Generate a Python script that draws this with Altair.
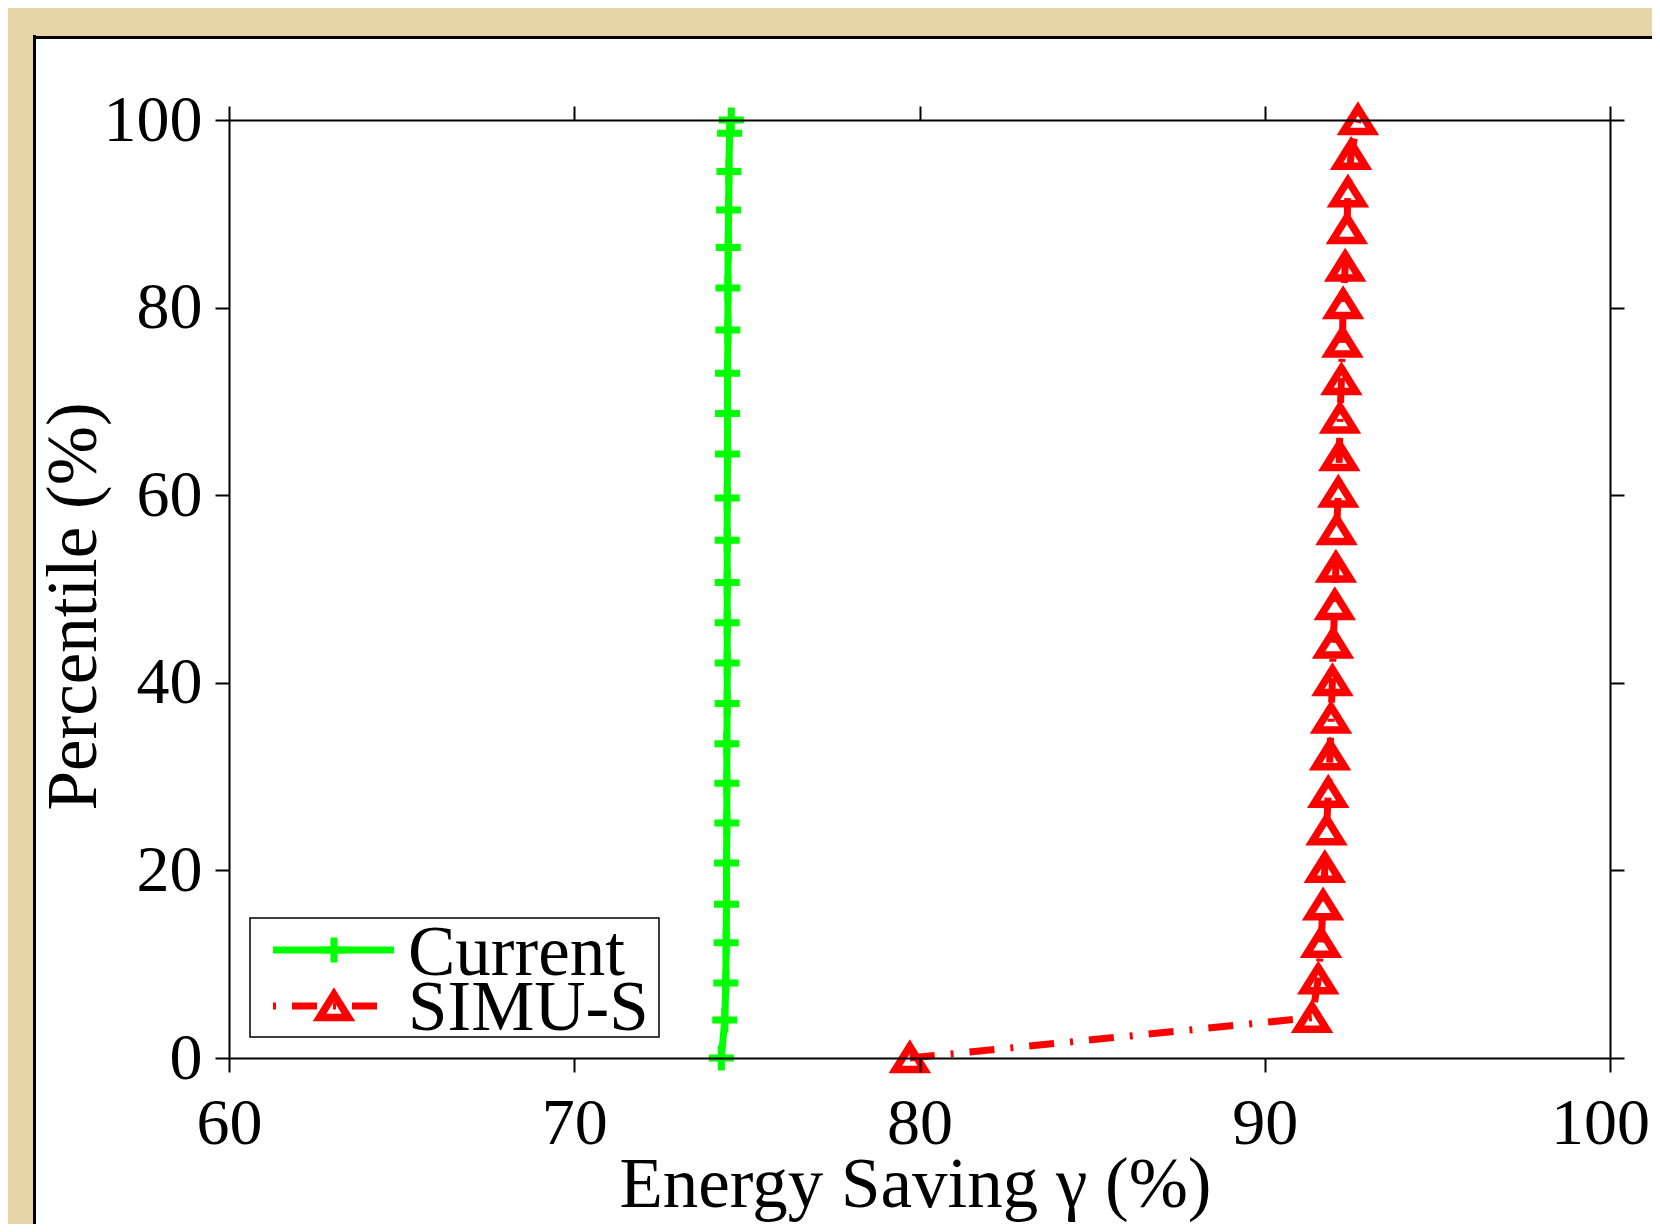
import altair as alt
import pandas as pd

# ---------------- data ----------------
current_pct = [0, 4.05, 8.0, 12.3, 16.4, 20.8, 25.05, 29.3, 33.5, 37.8, 42.1, 46.4, 50.7,
               55.2, 59.7, 64.4, 68.7, 73.0, 77.6, 82.1, 86.4, 90.4, 94.5, 98.6, 100]
current_x = [74.26, 74.36, 74.39, 74.40, 74.41, 74.41, 74.42, 74.42, 74.42, 74.43, 74.43, 74.43, 74.43,
             74.43, 74.43, 74.44, 74.44, 74.44, 74.45, 74.45, 74.46, 74.47, 74.48, 74.50, 74.55]

simu_pct = [0, 4.3, 8.4, 12.3, 16.3, 20.3, 24.3, 28.3, 32.3, 36.2, 40.2, 44.2, 48.3,
            52.3, 56.3, 60.3, 64.2, 68.2, 72.3, 76.3, 80.4, 84.4, 88.4, 92.3, 96.3, 100]
simu_x = [79.72, 91.37, 91.55, 91.63, 91.69, 91.74, 91.79, 91.84, 91.89, 91.92, 91.96, 91.98, 92.03,
          92.06, 92.08, 92.13, 92.16, 92.18, 92.22, 92.25, 92.27, 92.33, 92.38, 92.41, 92.50, 92.70]

series_names = ["Current", "SIMU-S"]
x_ticks = [60, 70, 80, 90, 100]
y_ticks = [0, 20, 40, 60, 80, 100]
x_title = "Energy Saving γ (%)"
y_title = "Percentile (%)"

# ---------------- layout / style ----------------
FONT = "Liberation Serif"
FS = 71
TFS = 66
GREEN = "#00ff00"
RED = "#ff0000"
W, H = 1381, 938
X0, Y0 = 229, 120          # page position of plot origin
TOTAL_W, TOTAL_H = 1644, 1216
PLUS = "M-1,0L1,0M0,-1L0,1"
TRI = "M0,-0.8L1,0.8L-1,0.8Z"
DASH = [25, 16, 3, 16]

df_c = pd.DataFrame({"x": current_x, "p": current_pct, "s": series_names[0]})
df_s = pd.DataFrame({"x": simu_x, "p": simu_pct, "s": series_names[1]})
one = pd.DataFrame({"a": [0]})

xs = alt.Scale(domain=[60, 100], nice=False, zero=False)
ys = alt.Scale(domain=[0, 100], nice=False, zero=False)

common = dict(domainColor="black", domainWidth=2, tickColor="black", tickWidth=2,
              tickSize=14, grid=False, zindex=1)

x_bottom = alt.Axis(values=x_ticks, format="d", labelFont=FONT, labelFontSize=TFS, labelColor="black",
                    labelPadding=71, labelBaseline="alphabetic", labelFlush=False, labelOverlap=False,
                    labelOffset={"condition": {"test": "datum.value == 100", "value": -10}, "value": 0},
                    title=x_title, titleFont=FONT, titleFontSize=FS, titleFontWeight="normal",
                    titleColor="black", titleX=686, titleY=148, titleBaseline="alphabetic",
                    titleAlign="center", orient="bottom", **common)
y_left = alt.Axis(values=y_ticks, format="d", labelFont=FONT, labelFontSize=TFS, labelColor="black",
                  labelPadding=13, labelFlush=False, labelOverlap=False,
                  title=y_title, titleFont=FONT, titleFontSize=FS, titleFontWeight="normal",
                  titleColor="black", titleX=-134, titleY=486, titleBaseline="alphabetic",
                  titleAlign="center", titleAngle=270, orient="left", **common)
x_top = alt.Axis(values=x_ticks, labels=False, title=None, orient="top", **common)
y_right = alt.Axis(values=y_ticks, labels=False, title=None, orient="right", **common)

# white panel with a black frame on its left and top sides
panel = alt.Chart(one).mark_rect(fill="white", strokeWidth=0).encode(
    x=alt.value(33 - X0), x2=alt.value(TOTAL_W - X0 + 20), y=alt.value(36 - Y0), y2=alt.value(TOTAL_H - Y0 + 20))
frame_left = alt.Chart(one).mark_rule(color="black", strokeWidth=3).encode(
    x=alt.value(34.5 - X0), y=alt.value(35 - Y0), y2=alt.value(TOTAL_H - Y0 + 20))
frame_top = alt.Chart(one).mark_rule(color="black", strokeWidth=3).encode(
    y=alt.value(37.5 - Y0), x=alt.value(33 - X0), x2=alt.value(TOTAL_W - X0 + 20))

c_line = alt.Chart(df_c).mark_line(color=GREEN, strokeWidth=7).encode(
    x=alt.X("x:Q", scale=xs, axis=x_bottom), y=alt.Y("p:Q", scale=ys, axis=y_left), order="p:Q")
c_pts = alt.Chart(df_c).mark_point(shape=PLUS, size=625, filled=False, stroke=GREEN, strokeWidth=7,
                                   opacity=1).encode(
    x=alt.X("x:Q", scale=xs, axis=None), y=alt.Y("p:Q", scale=ys, axis=None))
s_line = alt.Chart(df_s).mark_line(color=RED, strokeWidth=7, strokeDash=DASH).encode(
    x=alt.X("x:Q", scale=xs, axis=x_top), y=alt.Y("p:Q", scale=ys, axis=y_right), order="p:Q")
s_pts = alt.Chart(df_s).mark_point(shape=TRI, size=841, filled=False, stroke=RED, strokeWidth=7.5,
                                   opacity=1).encode(
    x=alt.X("x:Q", scale=xs, axis=None), y=alt.Y("p:Q", scale=ys, axis=None))

# ---------------- legend ----------------
leg_box = alt.Chart(one).mark_rect(fill="white", stroke="black", strokeWidth=1.5).encode(
    x=alt.value(21), x2=alt.value(430), y=alt.value(798), y2=alt.value(917))
leg_c_line = alt.Chart(one).mark_rule(color=GREEN, strokeWidth=7).encode(
    x=alt.value(44), x2=alt.value(165), y=alt.value(830))
leg_c_pt = alt.Chart(one).mark_point(shape=PLUS, size=625, filled=False, stroke=GREEN, strokeWidth=7,
                                     opacity=1).encode(x=alt.value(105), y=alt.value(830))
leg_s_line = alt.Chart(one).mark_rule(color=RED, strokeWidth=7, strokeDash=DASH, strokeDashOffset=41).encode(
    x=alt.value(44), x2=alt.value(149), y=alt.value(886))
leg_s_pt = alt.Chart(one).mark_point(shape=TRI, size=841, filled=False, stroke=RED, strokeWidth=7.5,
                                     opacity=1).encode(x=alt.value(105), y=alt.value(886))
leg_c_txt = alt.Chart(pd.DataFrame({"t": [series_names[0]]})).mark_text(
    font=FONT, fontSize=FS, align="left", baseline="alphabetic", color="black").encode(
    text="t:N", x=alt.value(179), y=alt.value(855))
leg_s_txt = alt.Chart(pd.DataFrame({"t": [series_names[1]]})).mark_text(
    font=FONT, fontSize=FS, align="left", baseline="alphabetic", color="black").encode(
    text="t:N", x=alt.value(179), y=alt.value(910))

chart = alt.layer(
    panel, frame_left, frame_top, c_line, c_pts, s_line, s_pts,
    leg_box, leg_c_line, leg_c_pt, leg_s_line, leg_s_pt, leg_c_txt, leg_s_txt
).resolve_axis(x="independent", y="independent").properties(
    width=W, height=H,
    autosize=alt.AutoSizeParams(type="none"),
    padding={"left": X0 - 8, "top": Y0 - 8,
             "right": TOTAL_W - (X0 - 8) - W, "bottom": TOTAL_H - (Y0 - 8) - H},
    background="#e6d3a6",
).configure_view(strokeWidth=0)

chart.save("out.html", embed_options={"renderer": "svg", "actions": False})
